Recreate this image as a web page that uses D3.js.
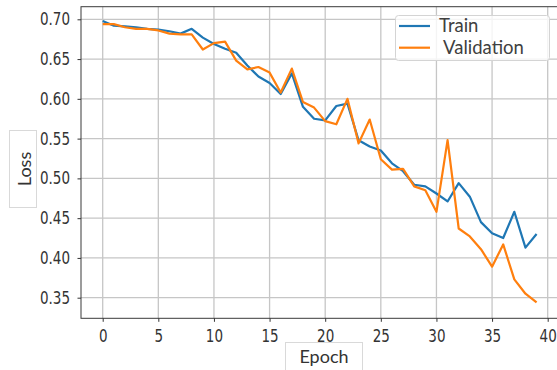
<!DOCTYPE html>
<html>
<head>
<meta charset="utf-8">
<script src="https://cdn.jsdelivr.net/npm/d3@7"></script>
<style>
    html, body { margin: 0; padding: 0; background: #fff; }
    .tickText { font-family: "DejaVu Sans", sans-serif; font-size: 13.5px; fill: #333; }
    .lblText { font-family: Lato, "Open Sans", sans-serif; font-size: 18px; fill: #333; }
    .legText { font-family: Lato, "Open Sans", sans-serif; font-size: 18.5px; fill: #404040; }
</style>
</head>
<body>
<div id="chart"></div>
<script>
'use strict';

// Data
const epochs = d3.range(0, 40);
const trainLoss = [
    0.698, 0.692, 0.691, 0.690, 0.688, 0.687, 0.685, 0.682, 0.688, 0.677,
    0.669, 0.663, 0.658, 0.642, 0.628, 0.620, 0.606, 0.632, 0.590, 0.575,
    0.573, 0.591, 0.594, 0.548, 0.540, 0.535, 0.519, 0.509, 0.492, 0.490,
    0.481, 0.471, 0.494, 0.477, 0.445, 0.431, 0.425, 0.458, 0.413, 0.430
];
const valLoss = [
    0.694, 0.694, 0.690, 0.688, 0.688, 0.686, 0.682, 0.681, 0.681, 0.662,
    0.670, 0.672, 0.648, 0.637, 0.640, 0.633, 0.608, 0.638, 0.596, 0.589,
    0.572, 0.568, 0.600, 0.544, 0.574, 0.524, 0.511, 0.512, 0.490, 0.485,
    0.458, 0.548, 0.437, 0.427, 0.411, 0.389, 0.417, 0.373, 0.355, 0.344
];
const xTicks = [0, 5, 10, 15, 20, 25, 30, 35, 40];
const yTicks = [0.35, 0.40, 0.45, 0.50, 0.55, 0.60, 0.65, 0.70];
const seriesNames = ['Train', ' Validation'];
const seriesColors = ['#1f77b4', '#ff7f0e'];

class LossChart {

    constructor(_ref) {
        this.parent = _ref;
        this.initVis();
    }

    initVis() {
        // Get this vis
        const vis = this;

        // Config
        vis.w = 557;
        vis.h = 370;
        vis.frame = {left: 81, right: 558, top: 6.7, bottom: 318.3};
        vis.stretch = 1.25;

        // Build svg
        vis.svg = d3.select(`#${vis.parent}`)
            .append('svg')
            .attr('width', vis.w)
            .attr('height', vis.h);

        // Scales
        vis.xScale = d3.scaleLinear()
            .domain([0, 40])
            .range([102.7, 547.7]);
        vis.yScale = d3.scaleLinear()
            .domain([0.35, 0.70])
            .range([297.7, 19.3]);

        vis.plotG = vis.svg.append('g')
            .attr('class', 'plotG');

        vis.updateVis();
    }

    updateVis() {
        // Get this vis
        const vis = this;
        const f = vis.frame;

        // Grid
        vis.plotG.append('g')
            .selectAll('line.vg')
            .data(xTicks)
            .join('line')
            .attr('x1', d => vis.xScale(d))
            .attr('x2', d => vis.xScale(d))
            .attr('y1', f.top)
            .attr('y2', f.bottom)
            .attr('stroke', '#c6c6c6')
            .attr('stroke-width', 1.3);
        vis.plotG.append('g')
            .selectAll('line.hg')
            .data(yTicks)
            .join('line')
            .attr('x1', f.left)
            .attr('x2', f.right)
            .attr('y1', d => vis.yScale(d))
            .attr('y2', d => vis.yScale(d))
            .attr('stroke', '#c6c6c6')
            .attr('stroke-width', 1.3);

        // Lines
        const lineMaker = d3.line()
            .x((d, i) => vis.xScale(epochs[i]))
            .y(d => vis.yScale(d));
        [trainLoss, valLoss].forEach((s, k) => {
            vis.plotG.append('path')
                .datum(s)
                .attr('fill', 'none')
                .attr('stroke', seriesColors[k])
                .attr('stroke-width', 2.2)
                .attr('stroke-linejoin', 'round')
                .attr('d', lineMaker);
        });

        // Frame
        vis.plotG.append('rect')
            .attr('x', f.left)
            .attr('y', f.top)
            .attr('width', f.right - f.left)
            .attr('height', f.bottom - f.top)
            .attr('fill', 'none')
            .attr('stroke', '#3a3a3a')
            .attr('stroke-width', 1);

        // Axes
        const yAxis = d3.axisLeft(vis.yScale)
            .tickValues(yTicks)
            .tickFormat(d3.format('.2f'))
            .tickSize(3.5)
            .tickPadding(7.5)
            .tickSizeOuter(0);
        const yG = vis.svg.append('g')
            .attr('transform', `translate(${f.left},0)`)
            .call(yAxis);
        const xAxis = d3.axisBottom(vis.xScale)
            .tickValues(xTicks)
            .tickSize(3.5)
            .tickPadding(5.5)
            .tickSizeOuter(0);
        const xG = vis.svg.append('g')
            .attr('transform', `translate(0,${f.bottom})`)
            .call(xAxis);

        [xG, yG].forEach(g => {
            g.select('.domain').remove();
            g.selectAll('.tick line').attr('stroke', '#333');
            g.selectAll('.tick text')
                .attr('class', 'tickText')
                .attr('font-family', null)
                .attr('font-size', null)
                .attr('fill', null)
                .attr('transform', `scale(1,${vis.stretch})`);
        });

        // Axis label boxes
        const epochG = vis.svg.append('g');
        epochG.append('rect')
            .attr('x', 285.5).attr('y', 342.5)
            .attr('width', 77).attr('height', 40)
            .attr('fill', '#fff').attr('stroke', '#d9d9d9');
        epochG.append('text')
            .attr('class', 'lblText')
            .attr('x', 324).attr('y', 363)
            .attr('text-anchor', 'middle')
            .text('Epoch');

        const lossG = vis.svg.append('g');
        lossG.append('rect')
            .attr('x', 9.5).attr('y', 130.5)
            .attr('width', 27).attr('height', 77)
            .attr('fill', '#fff').attr('stroke', '#d9d9d9');
        lossG.append('text')
            .attr('class', 'lblText')
            .attr('transform', 'translate(30.5,169) rotate(-90)')
            .attr('text-anchor', 'middle')
            .text('Loss');

        // Legend
        const legG = vis.svg.append('g');
        legG.append('rect')
            .attr('x', 395.5).attr('y', 15.5)
            .attr('width', 154).attr('height', 45)
            .attr('rx', 3)
            .attr('fill', '#fff').attr('fill-opacity', 0.8)
            .attr('stroke', '#d4d4d4');
        const legY = [26, 47.7];
        seriesNames.forEach((n, k) => {
            legG.append('line')
                .attr('x1', 399).attr('x2', 430)
                .attr('y1', legY[k]).attr('y2', legY[k])
                .attr('stroke', seriesColors[k])
                .attr('stroke-width', 2.2);
            legG.append('text')
                .attr('class', 'legText')
                .attr('x', 439)
                .attr('y', legY[k])
                .attr('dy', '0.35em')
                .attr('xml:space', 'preserve')
                .style('white-space', 'pre')
                .text(n);
        });
    }
}

new LossChart('chart');
</script>
</body>
</html>
